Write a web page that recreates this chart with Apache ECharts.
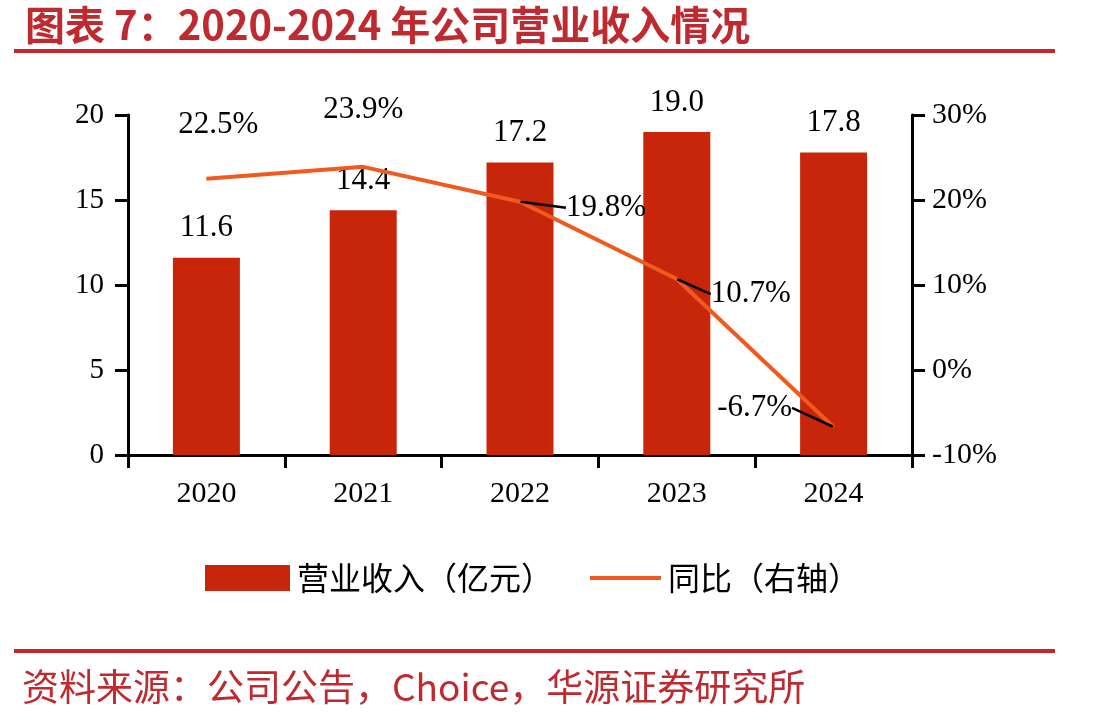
<!DOCTYPE html>
<html>
<head>
<meta charset="utf-8">
<script src="https://cdn.jsdelivr.net/npm/echarts@6/dist/echarts.min.js"></script>
<style>
html,body{margin:0;padding:0;background:#fff;}
#chart{width:1113px;height:723px;}
</style>
</head>
<body>
<div id="chart"></div>
<script>
const categories = ['2020', '2021', '2022', '2023', '2024'];
const revenue = [11.6, 14.4, 17.2, 19.0, 17.8];
const yoy = [22.5, 23.9, 19.8, 10.7, -6.7];
const leftTicks = [0, 5, 10, 15, 20];
const rightTicks = [-10, 0, 10, 20, 30];
const titleText = '图表 7：2020-2024 年公司营业收入情况';
const sourceText = '资料来源：公司公告，Choice，华源证券研究所';
const revenueName = '营业收入（亿元）';
const yoyName = '同比（右轴）';

const RED = '#BE2A2F';
const BAR = '#C8260A';
const LINE = '#F05A1E';
const serif = '"Liberation Serif", "DejaVu Serif", serif';
const cjk = '"Noto Sans CJK SC", sans-serif';

// label displacement for the growth-rate labels (style, not data)
const yoyLabelShift = [[12, -33], [0, -36], [86, 27], [74, 36], [-79, 2]];
const yoyLeader = [false, false, true, true, true];

const chart = echarts.init(document.getElementById('chart'), null, {renderer: 'canvas'});

const option = {
  backgroundColor: '#fff',
  animation: false,
  title: {
    text: titleText,
    left: 20, top: 0,
    textStyle: {color: RED, fontFamily: cjk, fontWeight: 'bold', fontSize: 40}
  },
  graphic: [
    {type: 'rect', shape: {x: 14, y: 49, width: 1041, height: 4}, style: {fill: RED}},
    {type: 'rect', shape: {x: 14, y: 649, width: 1041, height: 4}, style: {fill: RED}},
    {type: 'text', left: 22, top: 668, style: {text: sourceText, fill: RED, font: 'normal 37px ' + cjk}}
  ],
  grid: {left: 128, right: 201, top: 115, bottom: 268, containLabel: false},
  legend: [
    {
      data: [{name: revenueName, icon: 'rect'}],
      left: 205, top: 562, padding: 0, itemWidth: 85, itemHeight: 26, itemGap: 10,
      textStyle: {fontFamily: cjk, fontSize: 32, color: '#000', padding: [0, 0, 0, 2]}
    },
    {
      data: [{name: yoyName, icon: 'rect'}],
      left: 590, top: 562, padding: 0, itemWidth: 71, itemHeight: 4, itemGap: 10,
      textStyle: {fontFamily: cjk, fontSize: 32, color: '#000', padding: [0, 0, 0, 2]}
    }
  ],
  xAxis: {
    type: 'category',
    data: categories,
    axisLine: {lineStyle: {color: '#000', width: 3}},
    axisTick: {show: true, length: 13, lineStyle: {color: '#000', width: 3}},
    axisLabel: {fontFamily: serif, fontSize: 30, color: '#000', margin: 24}
  },
  yAxis: [
    {
      type: 'value', min: leftTicks[0], max: leftTicks[leftTicks.length - 1], interval: 5,
      axisLine: {show: true, lineStyle: {color: '#000', width: 3}},
      axisTick: {show: true, length: 13, lineStyle: {color: '#000', width: 3}},
      splitLine: {show: false},
      axisLabel: {fontFamily: serif, fontSize: 29, color: '#000', margin: 24}
    },
    {
      type: 'value', min: rightTicks[0], max: rightTicks[rightTicks.length - 1], interval: 10,
      position: 'right',
      axisLine: {show: true, lineStyle: {color: '#000', width: 3}},
      axisTick: {show: true, length: 13, lineStyle: {color: '#000', width: 3}},
      splitLine: {show: false},
      axisLabel: {fontFamily: serif, fontSize: 30, color: '#000', margin: 20, formatter: v => v + '%'}
    }
  ],
  series: [
    {
      name: revenueName,
      type: 'bar',
      data: revenue,
      barWidth: 67,
      itemStyle: {color: BAR},
      label: {
        show: true, position: 'top', distance: 14,
        fontFamily: serif, fontSize: 31, color: '#000',
        formatter: p => p.value.toFixed(1)
      },
      z: 2
    },
    {
      name: yoyName,
      type: 'line',
      yAxisIndex: 1,
      data: yoy.map((v, i) => ({value: v, labelLine: {show: yoyLeader[i]}})),
      symbol: 'circle',
      symbolSize: 1,
      itemStyle: {color: LINE},
      lineStyle: {color: LINE, width: 4},
      label: {
        show: true, position: 'top', distance: 5,
        fontFamily: serif, fontSize: 31, color: '#000',
        formatter: p => p.value.toFixed(1) + '%'
      },
      labelLine: {show: true, lineStyle: {color: '#000', width: 2.5}},
      labelLayout: p => ({dx: yoyLabelShift[p.dataIndex][0], dy: yoyLabelShift[p.dataIndex][1]}),
      z: 3
    }
  ]
};
chart.setOption(option);
</script>
</body>
</html>
